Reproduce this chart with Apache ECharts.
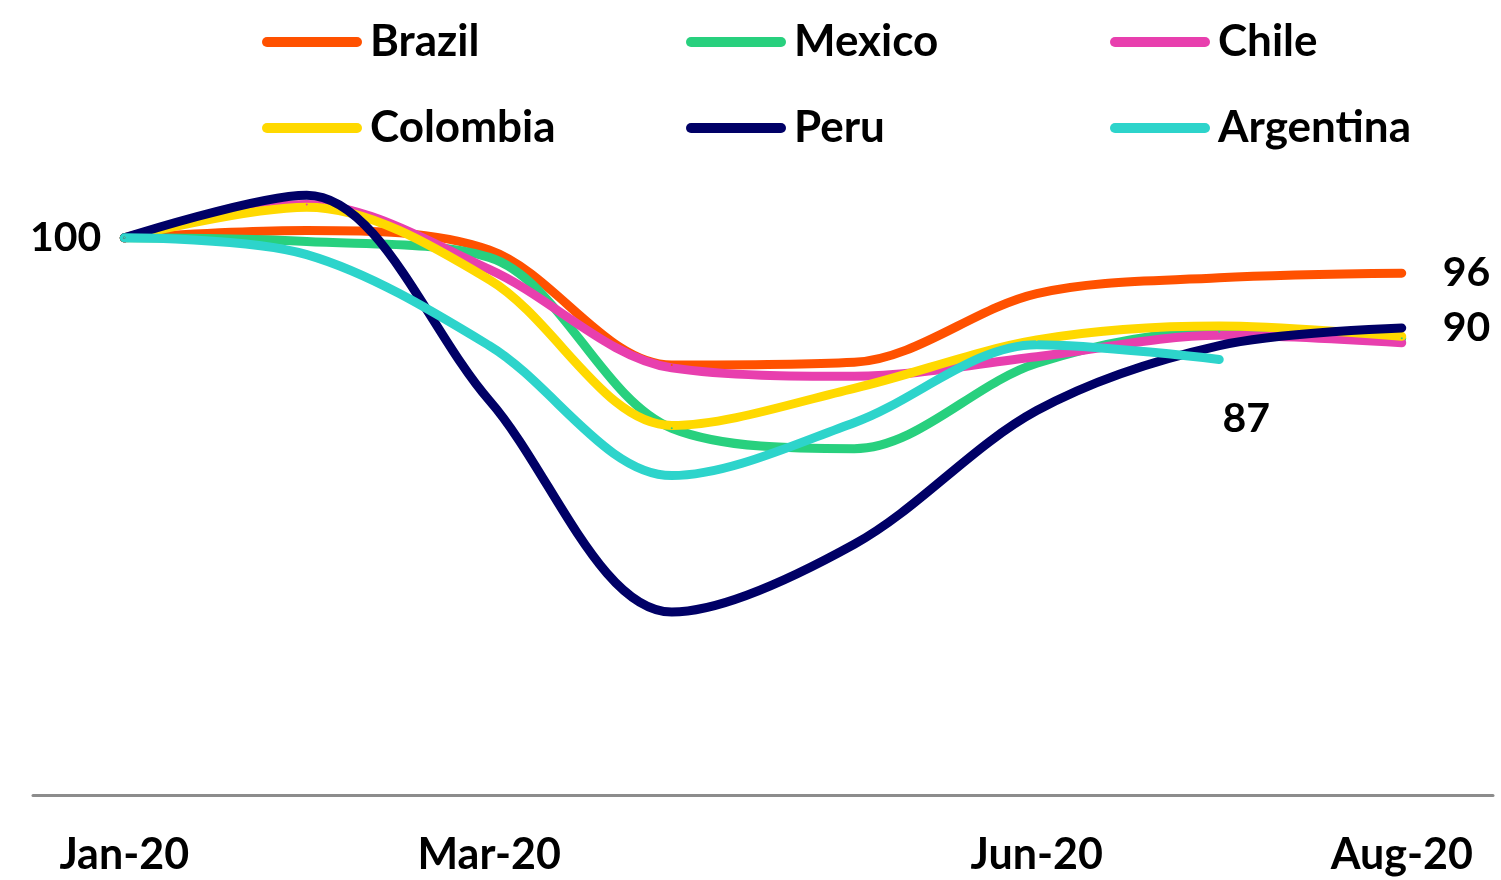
<!DOCTYPE html>
<html>
<head>
<meta charset="utf-8">
<title>Latin America activity index</title>
<script src="https://cdn.jsdelivr.net/npm/echarts@6/dist/echarts.min.js"></script>
<style>
  html, body { margin: 0; padding: 0; background: #ffffff; }
  #chart { width: 1501px; height: 880px; }
</style>
</head>
<body>
<div id="chart"></div>
<script>
// Monthly index, Jan-20 = 100
const months = ['Jan-20', 'Feb-20', 'Mar-20', 'Apr-20', 'May-20', 'Jun-20', 'Jul-20', 'Aug-20'];
const shownMonths = ['Jan-20', 'Mar-20', 'Jun-20', 'Aug-20'];

const brazil    = [100, 100.8, 98.7, 86.3, 86.6, 94.0, 95.7, 96.2];
const mexico    = [100, 99.6, 97.9, 79.5, 77.3, 86.5, 89.9, 89.2];
const chile     = [100, 103.6, 96.6, 86.0, 85.1, 87.2, 89.5, 88.7];
const colombia  = [100, 103.3, 95.5, 79.8, 83.8, 89.0, 90.5, 89.4];
const peru      = [100, 104.6, 82.5, 59.7, 67.0, 81.4, 88.4, 90.3];
const argentina = [100, 98.2, 88.4, 74.4, 80.1, 88.5, 86.9, null];

const seriesNames = ['Brazil', 'Mexico', 'Chile', 'Colombia', 'Peru', 'Argentina'];
const seriesData = [brazil, mexico, chile, colombia, peru, argentina];
const colors = ['#FF5100', '#28D07E', '#E83FAE', '#FFD900', '#000066', '#2DD4CB'];

const FONT = 'Lato, "Open Sans", sans-serif';
const valueLabel = {
  show: true,
  fontFamily: FONT,
  fontSize: 41,
  fontWeight: 'bold',
  color: '#000'
};

// value labels: start of the index, latest readings
function withLabels(name, values) {
  return values.map((v, i) => {
    if (v === null) return v;
    if (name === 'Argentina' && i === 0) {
      return { value: v, label: Object.assign({ position: 'left', distance: 22 }, valueLabel) };
    }
    if ((name === 'Brazil' || name === 'Peru') && i === values.length - 1) {
      return { value: v, label: Object.assign({ position: 'right', distance: 40, formatter: () => Math.round(v) }, valueLabel) };
    }
    if (name === 'Argentina' && i === 6) {
      return { value: v, label: Object.assign({ position: 'bottom', distance: 38, offset: [27, 0], formatter: () => Math.round(v) }, valueLabel) };
    }
    return v;
  });
}

const capsule = 'path://M5,0L95,0A5,5,0,0,1,95,10L5,10A5,5,0,0,1,5,0Z';
const legendLeft = [262, 686, 1110];
const legendTop = [16, 102];

const legends = seriesNames.map((name, i) => ({
  data: [name],
  left: legendLeft[i % 3],
  top: legendTop[Math.floor(i / 3)],
  padding: 0,
  icon: capsule,
  itemWidth: 100,
  itemHeight: 10,
  itemStyle: { borderWidth: 0 },
  selectedMode: false,
  textStyle: {
    fontFamily: FONT,
    fontSize: 44,
    fontWeight: 'bold',
    color: '#000',
    lineHeight: 52,
    padding: [0, 0, 0, 3]
  }
}));

const series = seriesNames.map((name, i) => ({
  name: name,
  type: 'line',
  data: withLabels(name, seriesData[i]),
  smooth: 0.33,
  showSymbol: true,
  symbol: 'circle',
  symbolSize: 2,
  color: colors[i],
  itemStyle: { color: colors[i], borderWidth: 0 },
  lineStyle: { width: 9, color: colors[i], cap: 'round', join: 'round' },
  emphasis: { disabled: true },
  connectNulls: false
}));

const chart = echarts.init(document.getElementById('chart'), null, { renderer: 'canvas' });
chart.setOption({
  animation: false,
  backgroundColor: '#ffffff',
  legend: legends,
  grid: { left: 33, right: 8, top: 145, bottom: 85, containLabel: false },
  xAxis: {
    type: 'category',
    data: months,
    boundaryGap: true,
    axisLine: { show: true, lineStyle: { color: '#8c8c8c', width: 3 } },
    axisTick: { show: false },
    axisLabel: {
      interval: (idx, val) => shownMonths.includes(val),
      margin: 39,
      fontFamily: FONT,
      fontSize: 43,
      fontWeight: 'bold',
      color: '#000'
    },
    splitLine: { show: false }
  },
  yAxis: {
    type: 'value',
    min: 40,
    max: 110,
    show: false,
    splitLine: { show: false }
  },
  series: series
});
</script>
</body>
</html>
